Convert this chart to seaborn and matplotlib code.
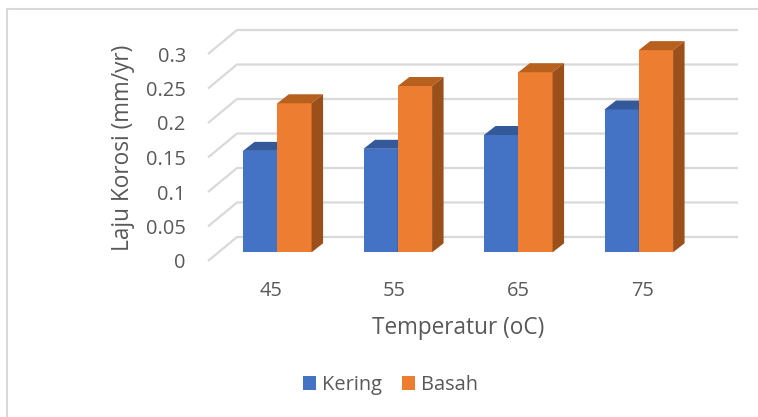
import numpy as np
import pandas as pd
import matplotlib
matplotlib.use("Agg")
import matplotlib.pyplot as plt
from matplotlib.patches import Polygon, Rectangle
import seaborn as sns

# ---- data -------------------------------------------------------------
temperatures = ["45", "55", "65", "75"]
kering = [0.147, 0.150, 0.170, 0.207]
basah = [0.216, 0.241, 0.261, 0.293]
series_names = ["Kering", "Basah"]
y_ticks = [0, 0.05, 0.1, 0.15, 0.2, 0.25, 0.3]
y_tick_labels = ["0", "0.05", "0.1", "0.15", "0.2", "0.25", "0.3"]

df = pd.DataFrame({
    "Temperatur": temperatures * 2,
    "Laju": kering + basah,
    "Seri": [series_names[0]] * len(kering) + [series_names[1]] * len(basah),
})

# ---- style ------------------------------------------------------------
sns.set_style("white")
plt.rcParams["font.family"] = ["Open Sans", "DejaVu Sans"]
TEXT = "#595959"
GRID = "#D9D9D9"
front_colors = {"Kering": "#4472C4", "Basah": "#ED7D31"}
top_colors = {"Kering": "#34599A", "Basah": "#B8611F"}
side_colors = {"Kering": "#2B4C86", "Basah": "#9B501B"}
TICK_FS = 14.4
TITLE_FS = 16.3

W, H = 758, 417
fig = plt.figure(figsize=(W / 100, H / 100), dpi=100)

# outer chart frame (only left and top edges fall inside the canvas)
fig.patches.append(Rectangle((7 / W, -0.5), 2.0, 1 - 9 / H + 0.5,
                             transform=fig.transFigure, fill=False,
                             edgecolor=GRID, linewidth=1.5, zorder=0))

# plot area in pixels and the pseudo-3D projection constants
AX_L, AX_R, AX_T, AX_B = 190, 745, 15, 265
PX_PER_CAT = 120.5      # horizontal pixels per category step
PX_PER_UNIT = 690.0     # vertical pixels per unit of corrosion rate
CAT0_PX, ZERO_PX = 277.3, 252.3

def px_x(px):
    return (px - CAT0_PX) / PX_PER_CAT

def px_y(py):
    return (ZERO_PX - py) / PX_PER_UNIT

ax = fig.add_axes([AX_L / W, 1 - AX_B / H, (AX_R - AX_L) / W, (AX_B - AX_T) / H])
ax.set_facecolor("none")

# depth offsets (data units) for bar bodies, floor front and back wall
bar_dx, bar_dy = 11.5 / PX_PER_CAT, 9.0 / PX_PER_UNIT
front_dx, front_dy = -10.5 / PX_PER_CAT, -8.7 / PX_PER_UNIT
back_dx, back_dy = 18.5 / PX_PER_CAT, 15.3 / PX_PER_UNIT
wall_x = px_x(218.5)
grid_right = px_x(738)

# side wall + back wall gridlines
for v in y_ticks:
    ax.plot([wall_x + front_dx, wall_x + back_dx, grid_right],
            [v + front_dy, v + back_dy, v + back_dy],
            color=GRID, linewidth=1.6, solid_capstyle="butt", zorder=0)

# front faces of the bars
sns.barplot(data=df, x="Temperatur", y="Laju", hue="Seri", order=temperatures,
            hue_order=series_names, palette=front_colors, saturation=1,
            width=0.569, gap=0, linewidth=0, errorbar=None, ax=ax)

# top and side faces give the bars their depth
for k, (cont, name) in enumerate(zip(ax.containers, series_names)):
    z = 2 + k
    for bar in cont:
        x0, w, h = bar.get_x(), bar.get_width(), bar.get_height()
        x1 = x0 + w
        bar.set_zorder(z)
        top = Polygon([(x0, h), (x1, h), (x1 + bar_dx, h + bar_dy), (x0 + bar_dx, h + bar_dy)],
                      closed=True, facecolor=top_colors[name], edgecolor="none", zorder=z + 0.1)
        side = Polygon([(x1, 0), (x1, h), (x1 + bar_dx, h + bar_dy), (x1 + bar_dx, bar_dy)],
                       closed=True, facecolor=side_colors[name], edgecolor="none", zorder=z + 0.1)
        ax.add_patch(top)
        ax.add_patch(side)

ax.set_xlim(px_x(AX_L), px_x(AX_R))
ax.set_ylim(px_y(AX_B), px_y(AX_T))
for s in ax.spines.values():
    s.set_visible(False)

# tick labels sit on the front plane of the floor / side wall
x_tick_pos = np.arange(len(temperatures)) * 1.029 - 0.055
ax.set_xticks(x_tick_pos, temperatures)
ax.set_yticks(np.array(y_ticks) + front_dy, y_tick_labels)
ax.tick_params(axis="both", length=0, labelsize=TICK_FS, labelcolor=TEXT)
ax.tick_params(axis="y", pad=3)
ax.tick_params(axis="x", pad=19)
for lbl in ax.get_xticklabels():
    lbl.set_verticalalignment("center")

ax.set_xlabel("Temperatur (oC)", fontsize=TITLE_FS, color=TEXT)
ax.set_ylabel("Laju Korosi (mm/yr)", fontsize=TITLE_FS, color=TEXT)
ax.xaxis.label.set_verticalalignment("center")
ax.yaxis.label.set_verticalalignment("center")
ax.xaxis.set_label_coords((458 - AX_L) / (AX_R - AX_L), (AX_B - 328) / (AX_B - AX_T))
ax.yaxis.set_label_coords((123 - AX_L) / (AX_R - AX_L), (AX_B - 148) / (AX_B - AX_T))

sns.move_legend(ax, "center", bbox_to_anchor=(390.5 / W, 1 - 385 / H),
                bbox_transform=fig.transFigure, ncol=2, frameon=False, title=None,
                fontsize=TICK_FS, labelcolor=TEXT, handlelength=0.65, handleheight=0.65,
                handletextpad=0.3, columnspacing=1.0)

fig.savefig("out.png", dpi=100)
